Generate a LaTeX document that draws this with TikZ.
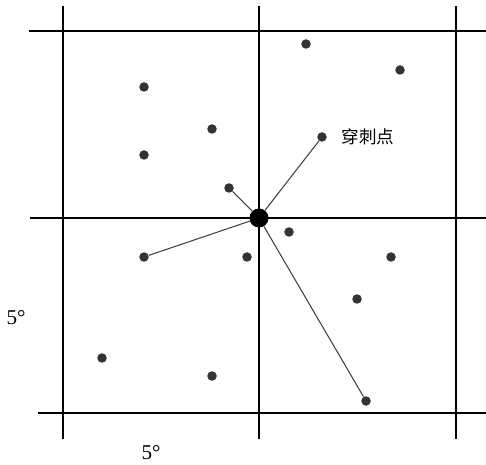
\documentclass[tikz,border=0pt]{standalone}
\usepackage{fontspec}
\setmainfont{Liberation Serif}
\newfontfamily\cjk{Noto Sans CJK SC}
\usetikzlibrary{positioning}

\begin{document}
\begin{tikzpicture}[x=0.02cm, y=-0.02cm,
    gridline/.style={line width=1.6pt, black},
    station/.style={circle, fill=black!80, inner sep=0pt, minimum size=0.19cm},
    pierce/.style={circle, fill=black, inner sep=0pt, minimum size=0.38cm},
    ray/.style={line width=0.6pt, black!75}]
\useasboundingbox (0,0) rectangle (486,465);

% Grid
\foreach \gx in {63, 259, 456}
  \draw[gridline] (\gx,6) -- (\gx,439);
\draw[gridline] (29,31) -- (486,31);
\draw[gridline] (30,218) -- (486,218);
\draw[gridline] (38,413) -- (486,413);

% Stations
\foreach \name/\px/\py in {a/144/87, b/212/129, c/144/155, d/229/188,
    e/306/44, f/400/70, g/322/137, h/289/232, i/247/257, j/144/257,
    k/391/257, l/357/299, m/102/358, n/212/376, o/366/401}
  \node[station] (\name) at (\px,\py) {};

% Pierce point
\node[pierce] (ctr) at (259,218) {};

\draw[ray] (ctr) -- (d);
\draw[ray] (ctr) -- (g);
\draw[ray] (ctr) -- (j);
\draw[ray] (ctr) -- (o);

% Labels
\node[right=0.28cm of g, inner sep=0pt, font=\cjk] (lbl) {穿刺点};
\node[font=\large] (dy) at (16,318) {5°};
\node[font=\large] (dx) at (151,453) {5°};

\end{tikzpicture}
\end{document}
